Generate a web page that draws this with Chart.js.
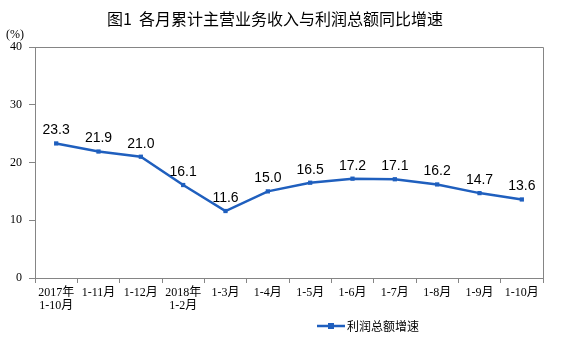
<!DOCTYPE html>
<html>
<head>
<meta charset="utf-8">
<script src="https://cdn.jsdelivr.net/npm/chart.js@4/dist/chart.umd.min.js"></script>
<style>
  html, body { margin: 0; padding: 0; background: #ffffff; }
  #wrap { width: 573px; height: 342px; position: relative; }
</style>
</head>
<body>
<div id="wrap"><canvas id="c" width="573" height="342"></canvas></div>
<script>
// Reporting periods (cumulative months)
const categories = [
  ['2017年', '1-10月'], '1-11月', '1-12月', ['2018年', '1-2月'],
  '1-3月', '1-4月', '1-5月', '1-6月', '1-7月', '1-8月', '1-9月', '1-10月'
];
// Year-on-year growth of total profit, %
const profitGrowth = [23.3, 21.9, 21.0, 16.1, 11.6, 15.0, 16.5, 17.2, 17.1, 16.2, 14.7, 13.6];
// Value axis range and step
const yMin = 0;
const yMax = 40;
const yStep = 10;

const chartTitle = '图1  各月累计主营业务收入与利润总额同比增速';
const seriesName = '利润总额增速';
const unitLabel = '(%)';

const LINE_COLOR = '#1f5fbe';
const AXIS_COLOR = '#858585';
const SERIF = "'Liberation Serif', 'Noto Sans CJK SC', serif";
const SANS_CJK = "'Noto Sans CJK SC', 'Liberation Sans', sans-serif";

// Frame, title, unit label, value labels and legend
const decorations = {
  id: 'decorations',
  afterDraw(chart) {
    const ctx = chart.ctx;
    const area = chart.chartArea;
    ctx.save();

    // top and right edges of the plot frame
    ctx.strokeStyle = AXIS_COLOR;
    ctx.lineWidth = 1;
    ctx.beginPath();
    ctx.moveTo(area.left, area.top + 0.5);
    ctx.lineTo(area.right + 0.5, area.top + 0.5);
    ctx.lineTo(area.right + 0.5, area.bottom);
    ctx.stroke();

    // title
    ctx.fillStyle = '#000000';
    ctx.font = '16px ' + SANS_CJK;
    ctx.textAlign = 'center';
    ctx.textBaseline = 'middle';
    ctx.fillText(chartTitle, 275, 19);

    // unit
    ctx.font = '12px ' + SERIF;
    ctx.fillText(unitLabel, 15, 35);

    // value labels above each point
    const meta = chart.getDatasetMeta(0);
    ctx.font = '14px "Liberation Sans", Arial, sans-serif';
    ctx.textBaseline = 'middle';
    meta.data.forEach((pt, i) => {
      ctx.fillText(profitGrowth[i].toFixed(1), pt.x, pt.y - 13);
    });

    // legend
    const ds = chart.data.datasets[0];
    const ly = 326;
    ctx.strokeStyle = ds.borderColor;
    ctx.lineWidth = 2.5;
    ctx.beginPath();
    ctx.moveTo(317, ly);
    ctx.lineTo(345, ly);
    ctx.stroke();
    ctx.fillStyle = ds.borderColor;
    ctx.fillRect(331 - 3, ly - 3, 6, 6);
    ctx.fillStyle = '#000000';
    ctx.font = '12px ' + SANS_CJK;
    ctx.textAlign = 'left';
    ctx.fillText(ds.label, 347, ly);

    ctx.restore();
  }
};

new Chart(document.getElementById('c'), {
  type: 'line',
  data: {
    labels: categories,
    datasets: [{
      label: seriesName,
      data: profitGrowth,
      borderColor: LINE_COLOR,
      backgroundColor: LINE_COLOR,
      borderWidth: 2.5,
      pointStyle: 'rect',
      pointRadius: 3,
      pointBorderWidth: 0,
      pointBackgroundColor: LINE_COLOR,
      tension: 0,
      fill: false
    }]
  },
  options: {
    responsive: false,
    animation: false,
    devicePixelRatio: 1,
    layout: { padding: { top: 47, right: 30, left: 0, bottom: 0 } },
    plugins: {
      legend: { display: false },
      title: { display: false },
      tooltip: { enabled: false }
    },
    scales: {
      x: {
        type: 'category',
        offset: true,
        grid: {
          offset: true,
          drawOnChartArea: false,
          drawTicks: true,
          tickLength: 5,
          color: AXIS_COLOR
        },
        border: { display: true, color: AXIS_COLOR, width: 1 },
        ticks: {
          color: '#000000',
          font: { family: SERIF, size: 12, lineHeight: 1.05 },
          padding: 4,
          maxRotation: 0,
          autoSkip: false
        },
        afterFit(scale) { scale.height = 64; }
      },
      y: {
        min: yMin,
        max: yMax,
        ticks: {
          stepSize: yStep,
          color: '#000000',
          font: { family: SERIF, size: 12 },
          padding: 7
        },
        grid: {
          drawOnChartArea: false,
          drawTicks: true,
          tickLength: 6,
          color: AXIS_COLOR
        },
        border: { display: true, color: AXIS_COLOR, width: 1 },
        afterFit(scale) { scale.width = 35; }
      }
    }
  },
  plugins: [decorations]
});
</script>
</body>
</html>
